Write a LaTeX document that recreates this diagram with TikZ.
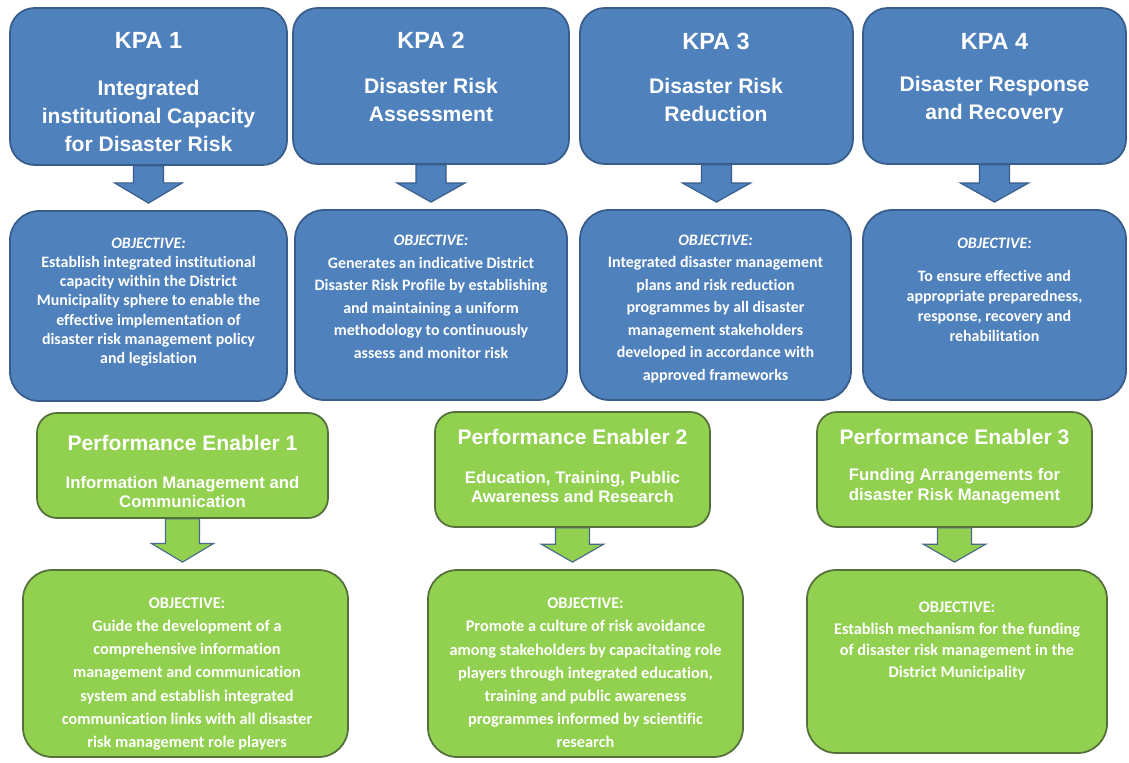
\documentclass[tikz,border=0pt]{standalone}
\usepackage{fontspec}
\setmainfont{Liberation Sans}
\newfontfamily\headfont{Liberation Sans}
\newfontfamily\bodyfont[Ligatures=CommonOff]{Carlito}
\usetikzlibrary{fit,calc,backgrounds}
\definecolor{kblue}{HTML}{4F81BD}
\definecolor{kblueline}{HTML}{385D8A}
\definecolor{kgreen}{HTML}{92D050}
\definecolor{kgreenline}{HTML}{56703C}
\definecolor{garrowline}{HTML}{4A6A8C}
\tikzset{
  bluebox/.style={fill=kblue, draw=kblueline, line width=1.5pt, inner sep=0pt, rounded corners=21pt},
  blueobj/.style={fill=kblue, draw=kblueline, line width=1.5pt, inner sep=0pt, rounded corners=25pt},
  greenbox/.style={fill=kgreen, draw=kgreenline, line width=1.5pt, inner sep=0pt, rounded corners=17pt},
  greenobj/.style={fill=kgreen, draw=kgreenline, line width=1.5pt, inner sep=0pt, rounded corners=25pt},
  kpatitle/.style={text=white, inner sep=0pt, font=\headfont\bfseries\fontsize{20}{24}\selectfont},
  kpasub/.style={text=white, inner sep=0pt, align=center, font=\headfont\bfseries\fontsize{18}{23.9}\selectfont},
  petitle/.style={text=white, inner sep=0pt, font=\headfont\bfseries\fontsize{18}{22}\selectfont},
  pesub/.style={text=white, inner sep=0pt, align=center, font=\headfont\bfseries\fontsize{14.3}{#1}\selectfont},
  pesub/.default=16,
  objtext/.style={text=white, inner sep=0pt, align=center, font=\bodyfont\bfseries\fontsize{13.6}{#1}\selectfont},
  objtext/.default=17,
  gobjtext/.style={text=white, inner sep=0pt, align=center, font=\bodyfont\bfseries\fontsize{13.9}{#1}\selectfont},
  gobjtext/.default=17,
  bluearrow/.style={fill=kblue, draw=kblueline, line width=1pt, line join=miter},
  greenarrow/.style={fill=kgreen, draw=garrowline, line width=1pt, line join=miter}
}
% #1 style, #2 source node, #3 target node, #4 half shaft, #5 half head, #6 shaft length
\newcommand{\blockarr}[6]{%
  \path[#1] let \p1=(#2.south), \p2=(#3.north) in
    (\x1-#4,\y1) -- (\x1-#4,\y1-#6) -- (\x1-#5,\y1-#6) -- (\x1,\y2+6pt)
    -- (\x1+#5,\y1-#6) -- (\x1+#4,\y1-#6) -- (\x1+#4,\y1) -- cycle;}
\begin{document}
\begin{tikzpicture}[x=0.03cm,y=-0.03cm]
\useasboundingbox (0,0) rectangle (1129,763);

% KPA boxes
\node[bluebox, fit={(10,8) (287,165)}] (k1) {};
\node[bluebox, fit={(293,8) (569,164)}] (k2) {};
\node[bluebox, fit={(580,8) (853,164)}] (k3) {};
\node[bluebox, fit={(863,8) (1126,164)}] (k4) {};

\node[kpatitle] (k1t) at (148.5,40) {KPA 1};
\node[kpatitle] (k2t) at (431,40) {KPA 2};
\node[kpatitle] (k3t) at (716,41) {KPA 3};
\node[kpatitle] (k4t) at (994.5,41) {KPA 4};
\node[kpasub] (k1s) at (148.5,116) {Integrated\\institutional Capacity\\for Disaster Risk};
\node[kpasub] (k2s) at (431,100) {Disaster Risk\\Assessment};
\node[kpasub] (k3s) at (716,100) {Disaster Risk\\Reduction};
\node[kpasub] (k4s) at (994.5,100) {Disaster Response\\and Recovery};

% KPA objectives
\node[blueobj, fit={(10,211) (287,401)}] (o1) {};
\node[blueobj, fit={(295,210) (567,400)}] (o2) {};
\node[blueobj, fit={(580,210) (851,400)}] (o3) {};
\node[blueobj, fit={(863,210) (1126,400)}] (o4) {};

\node[objtext=16.4] (o1t) at (148.5,302) {\textit{OBJECTIVE:}\\Establish integrated institutional\\capacity within the District\\Municipality sphere to enable the\\effective implementation of\\disaster risk management policy\\and legislation};
\node[objtext=19.2] (o2t) at (431,297) {\textit{OBJECTIVE:}\\Generates an indicative District\\Disaster Risk Profile by establishing\\and maintaining a uniform\\methodology to continuously\\assess and monitor risk};
\node[objtext=19.2] (o3t) at (715.5,309) {\textit{OBJECTIVE:}\\Integrated disaster management\\plans and risk reduction\\programmes by all disaster\\management stakeholders\\developed in accordance with\\approved frameworks};
\node[objtext=17] (o4t) at (994.5,290) {\textit{OBJECTIVE:}\\[11pt]To ensure effective and\\appropriate preparedness,\\response, recovery and\\rehabilitation};

% Performance enablers
\node[greenbox, fit={(37,413) (328,518)}] (p1) {};
\node[greenbox, fit={(435,412) (710,527)}] (p2) {};
\node[greenbox, fit={(817,412) (1092,527)}] (p3) {};

\node[petitle] (p1t) at (182.5,443) {Performance Enabler 1};
\node[petitle] (p2t) at (572.5,437) {Performance Enabler 2};
\node[petitle] (p3t) at (954.5,437) {Performance Enabler 3};
\node[pesub=15.4] (p1s) at (182.5,492) {Information Management and\\Communication};
\node[pesub=15.4] (p2s) at (572.5,487) {Education, Training, Public\\Awareness and Research};
\node[pesub=17] (p3s) at (954.5,486) {Funding Arrangements for\\disaster Risk Management};

% Enabler objectives
\node[greenobj, fit={(23,570) (348,757)}] (g1) {};
\node[greenobj, fit={(428,570) (743,757)}] (g2) {};
\node[greenobj, fit={(807,570) (1107,753)}] (g3) {};

\node[gobjtext=19.8] (g1t) at (187,674) {OBJECTIVE:\\Guide the development of a\\comprehensive information\\management and communication\\system and establish integrated\\communication links with all disaster\\risk management role players};
\node[gobjtext=19.8] (g2t) at (585.5,673) {OBJECTIVE:\\Promote a culture of risk avoidance\\among stakeholders by capacitating role\\players through integrated education,\\training and public awareness\\programmes informed by scientific\\research};
\node[gobjtext=18.5] (g3t) at (957,641) {OBJECTIVE:\\Establish mechanism for the funding\\of disaster risk management in the\\District Municipality};

\begin{scope}[on background layer]
  \fill[white] (0,0) rectangle (1129,763);
  \blockarr{bluearrow}{k1}{o1}{12.8pt}{29pt}{14.5pt}
  \blockarr{bluearrow}{k2}{o2}{12.8pt}{29pt}{15.5pt}
  \blockarr{bluearrow}{k3}{o3}{12.8pt}{29pt}{15.5pt}
  \blockarr{bluearrow}{k4}{o4}{12.8pt}{29pt}{15.5pt}
  \blockarr{greenarrow}{p1}{g1}{14.5pt}{26.5pt}{21pt}
  \blockarr{greenarrow}{p2}{g2}{14.5pt}{26.5pt}{14pt}
  \blockarr{greenarrow}{p3}{g3}{14.5pt}{26.5pt}{14pt}
\end{scope}
\end{tikzpicture}
\end{document}
